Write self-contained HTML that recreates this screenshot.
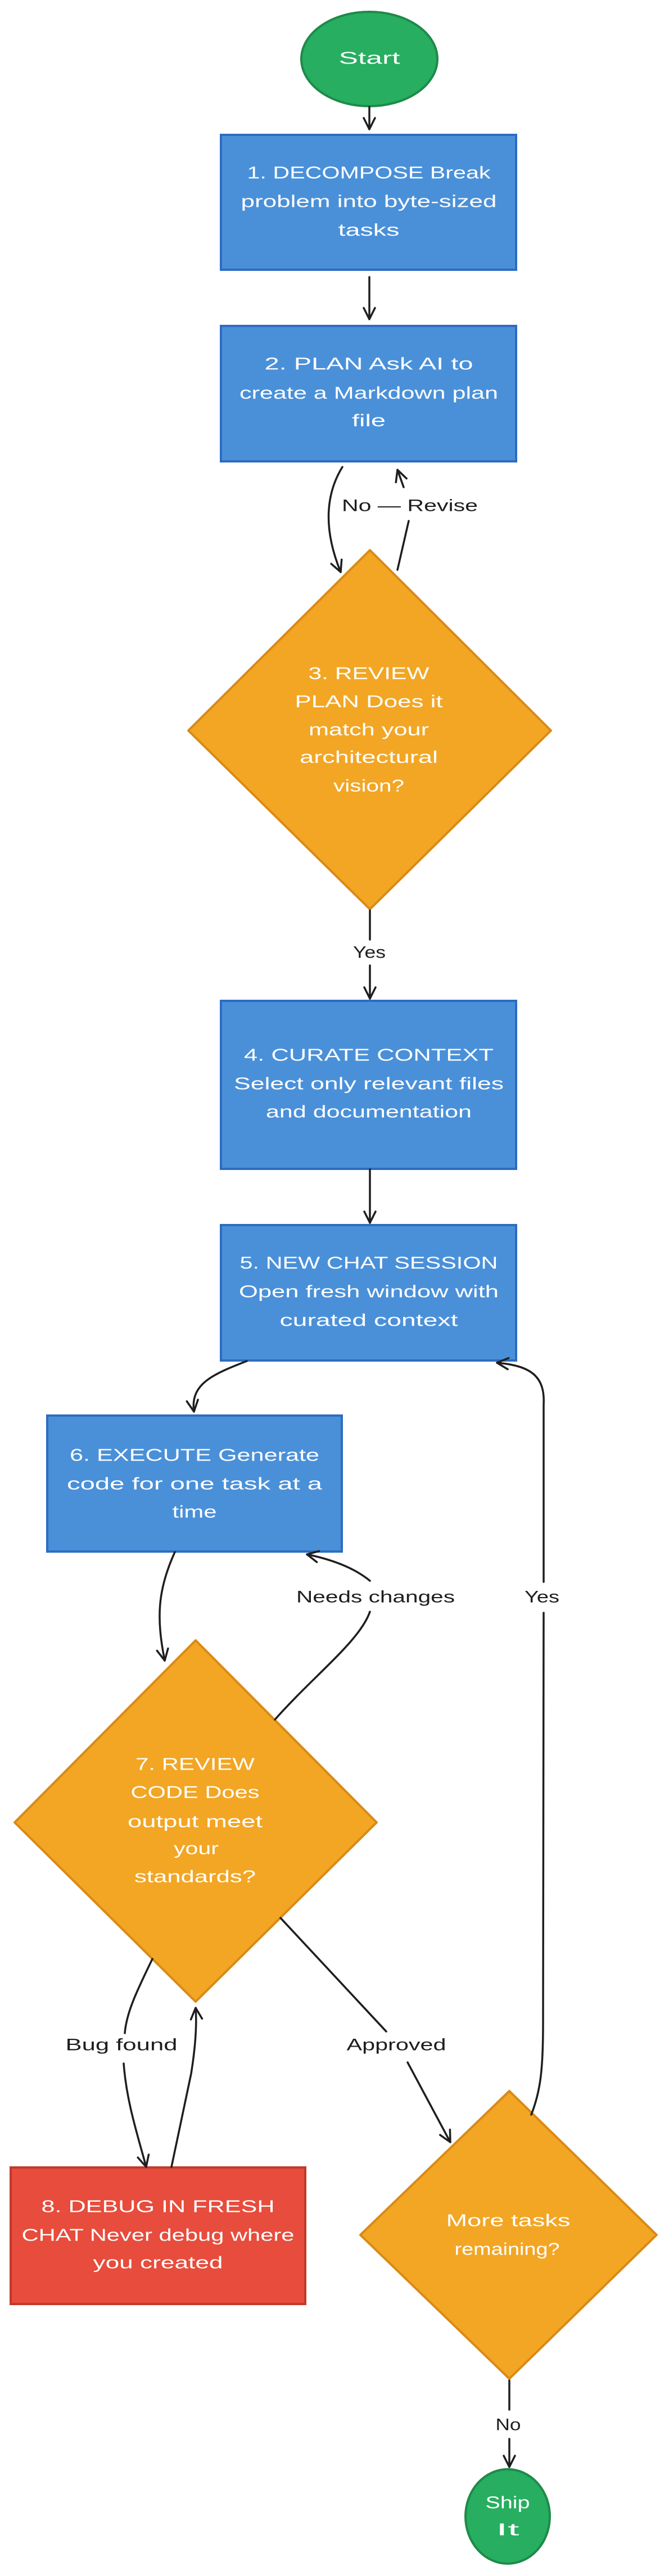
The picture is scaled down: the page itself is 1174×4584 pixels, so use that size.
<!DOCTYPE html>
<html><head><meta charset="utf-8"><style>
html,body{margin:0;padding:0;background:#fff;}
svg{display:block;}
text{font-family:"Liberation Sans",sans-serif;}
.w{fill:#fff;font-size:31px;}
.k{fill:#1e1e1e;font-size:30px;}
.c{fill:none;stroke:#1e1e1e;stroke-width:3.5;stroke-linecap:round;}
</style></head><body>
<svg width="1174" height="4584" viewBox="0 0 1174 4584" xmlns="http://www.w3.org/2000/svg">
<defs>
<marker id="a" markerUnits="userSpaceOnUse" markerWidth="30" markerHeight="30" refX="22" refY="12" orient="auto" viewBox="0 0 30 24">
<path d="M2,2 L22,12 L2,22" fill="none" stroke="#1e1e1e" stroke-width="3.5" stroke-linecap="round" stroke-linejoin="round"/>
</marker>
</defs>
<g text-anchor="middle" dominant-baseline="central">
<!-- Start -->
<ellipse cx="657" cy="105" rx="121" ry="84" fill="#27ae60" stroke="#1e8a4a" stroke-width="4"/>
<text class="w" x="657" y="103" textLength="109" lengthAdjust="spacingAndGlyphs">Start</text>

<!-- Box1 -->
<rect x="393" y="240" width="525" height="240" fill="#4a90d9" stroke="#2d6cc0" stroke-width="4"/>
<text class="w" x="656" y="307" textLength="433" lengthAdjust="spacingAndGlyphs">1. DECOMPOSE Break</text>
<text class="w" x="656" y="358" textLength="455" lengthAdjust="spacingAndGlyphs">problem into byte-sized</text>
<text class="w" x="656" y="409" textLength="109" lengthAdjust="spacingAndGlyphs">tasks</text>

<!-- Box2 -->
<rect x="393" y="580" width="525" height="241" fill="#4a90d9" stroke="#2d6cc0" stroke-width="4"/>
<text class="w" x="656" y="647" textLength="371" lengthAdjust="spacingAndGlyphs">2. PLAN Ask AI to</text>
<text class="w" x="656" y="699" textLength="460" lengthAdjust="spacingAndGlyphs">create a Markdown plan</text>
<text class="w" x="656" y="748" textLength="60" lengthAdjust="spacingAndGlyphs">file</text>

<!-- Diamond3 -->
<polygon points="658,979 980,1300 658,1618 335,1300" fill="#f2a624" stroke="#d98a16" stroke-width="4" stroke-linejoin="round"/>
<text class="w" x="656" y="1198" textLength="215" lengthAdjust="spacingAndGlyphs">3. REVIEW</text>
<text class="w" x="656" y="1248" textLength="263" lengthAdjust="spacingAndGlyphs">PLAN Does it</text>
<text class="w" x="656" y="1298" textLength="214" lengthAdjust="spacingAndGlyphs">match your</text>
<text class="w" x="656" y="1347" textLength="246" lengthAdjust="spacingAndGlyphs">architectural</text>
<text class="w" x="656" y="1398" textLength="126" lengthAdjust="spacingAndGlyphs">vision?</text>

<!-- Box4 -->
<rect x="393" y="1781" width="525" height="299" fill="#4a90d9" stroke="#2d6cc0" stroke-width="4"/>
<text class="w" x="656" y="1877" textLength="444" lengthAdjust="spacingAndGlyphs">4. CURATE CONTEXT</text>
<text class="w" x="656" y="1928" textLength="480" lengthAdjust="spacingAndGlyphs">Select only relevant files</text>
<text class="w" x="656" y="1978" textLength="366" lengthAdjust="spacingAndGlyphs">and documentation</text>

<!-- Box5 -->
<rect x="393" y="2180" width="525" height="241" fill="#4a90d9" stroke="#2d6cc0" stroke-width="4"/>
<text class="w" x="656" y="2247" textLength="459" lengthAdjust="spacingAndGlyphs">5. NEW CHAT SESSION</text>
<text class="w" x="656" y="2298" textLength="462" lengthAdjust="spacingAndGlyphs">Open fresh window with</text>
<text class="w" x="656" y="2349" textLength="317" lengthAdjust="spacingAndGlyphs">curated context</text>

<!-- Box6 -->
<rect x="84" y="2519" width="524" height="242" fill="#4a90d9" stroke="#2d6cc0" stroke-width="4"/>
<text class="w" x="346" y="2589" textLength="444" lengthAdjust="spacingAndGlyphs">6. EXECUTE Generate</text>
<text class="w" x="346" y="2640" textLength="454" lengthAdjust="spacingAndGlyphs">code for one task at a</text>
<text class="w" x="346" y="2690" textLength="79" lengthAdjust="spacingAndGlyphs">time</text>

<!-- Diamond7 -->
<polygon points="348,2919 670,3243 348,3562 26,3243" fill="#f2a624" stroke="#d98a16" stroke-width="4" stroke-linejoin="round"/>
<text class="w" x="347" y="3139" textLength="212" lengthAdjust="spacingAndGlyphs">7. REVIEW</text>
<text class="w" x="347" y="3189" textLength="229" lengthAdjust="spacingAndGlyphs">CODE Does</text>
<text class="w" x="347" y="3241" textLength="240" lengthAdjust="spacingAndGlyphs">output meet</text>
<text class="w" x="349" y="3289" textLength="80" lengthAdjust="spacingAndGlyphs">your</text>
<text class="w" x="347" y="3339" textLength="216" lengthAdjust="spacingAndGlyphs">standards?</text>

<!-- Box8 -->
<rect x="19" y="3857" width="524" height="243" fill="#e74c3c" stroke="#c0392b" stroke-width="4"/>
<text class="w" x="281" y="3926" textLength="415" lengthAdjust="spacingAndGlyphs">8. DEBUG IN FRESH</text>
<text class="w" x="281" y="3977" textLength="485" lengthAdjust="spacingAndGlyphs">CHAT Never debug where</text>
<text class="w" x="281" y="4026" textLength="231" lengthAdjust="spacingAndGlyphs">you created</text>

<!-- Diamond9 -->
<polygon points="906,3721 1168,3977 906,4233 641,3977" fill="#f2a624" stroke="#d98a16" stroke-width="4" stroke-linejoin="round"/>
<text class="w" x="904" y="3951" textLength="221" lengthAdjust="spacingAndGlyphs">More tasks</text>
<text class="w" x="902" y="4002" textLength="187" lengthAdjust="spacingAndGlyphs">remaining?</text>

<!-- Ship It -->
<ellipse cx="903" cy="4478" rx="75" ry="84" fill="#27ae60" stroke="#1e8a4a" stroke-width="4"/>
<text class="w" x="903" y="4453" textLength="79" lengthAdjust="spacingAndGlyphs">Ship</text>
<text class="w" x="903" y="4501" textLength="41" lengthAdjust="spacingAndGlyphs">It</text>

<!-- connectors -->
<path class="c" d="M657,190 L657,230" marker-end="url(#a)"/>
<path class="c" d="M657,493 L657,568" marker-end="url(#a)"/>
<path class="c" d="M609,831 C585,870 570,930 606,1018" marker-end="url(#a)"/>
<path class="c" d="M707,1014 L727,927"/>
<path class="c" d="M718,867 L707,836" marker-end="url(#a)"/>
<path class="c" d="M658,1620 L658,1672"/>
<path class="c" d="M658,1718 L658,1777" marker-end="url(#a)"/>
<path class="c" d="M658,2081 L658,2176" marker-end="url(#a)"/>
<path class="c" d="M439,2422 C380,2445 338,2462 345,2512" marker-end="url(#a)"/>
<path class="c" d="M311,2762 C280,2830 278,2880 293,2955" marker-end="url(#a)"/>
<path class="c" d="M489,3060 C560,2980 640,2920 658,2868"/>
<path class="c" d="M658,2813 C630,2790 590,2775 546,2766" marker-end="url(#a)"/>
<path class="c" d="M945,3763 C962,3720 966,3680 966,3600 L967,2870"/>
<path class="c" d="M967,2815 L967,2500 C970,2450 945,2430 884,2425" marker-end="url(#a)"/>
<path class="c" d="M271,3486 C245,3540 225,3580 222,3618"/>
<path class="c" d="M220,3672 C225,3740 245,3800 260,3856" marker-end="url(#a)"/>
<path class="c" d="M305,3856 L340,3690 C348,3640 350,3600 348,3573" marker-end="url(#a)"/>
<path class="c" d="M499,3413 L687,3615"/>
<path class="c" d="M725,3670 L801,3812" marker-end="url(#a)"/>
<path class="c" d="M906,4236 L906,4288"/>
<path class="c" d="M906,4340 L906,4390" marker-end="url(#a)"/>

<!-- labels -->
<text class="k" x="729" y="900" textLength="242" lengthAdjust="spacingAndGlyphs">No — Revise</text>
<text class="k" x="657" y="1695" textLength="58" lengthAdjust="spacingAndGlyphs">Yes</text>
<text class="k" x="668" y="2842" textLength="282" lengthAdjust="spacingAndGlyphs">Needs changes</text>
<text class="k" x="964" y="2842" textLength="62" lengthAdjust="spacingAndGlyphs">Yes</text>
<text class="k" x="216" y="3639" textLength="199" lengthAdjust="spacingAndGlyphs">Bug found</text>
<text class="k" x="705" y="3639" textLength="177" lengthAdjust="spacingAndGlyphs">Approved</text>
<text class="k" x="904" y="4315" textLength="45" lengthAdjust="spacingAndGlyphs">No</text>
</g>
</svg>
</body></html>
